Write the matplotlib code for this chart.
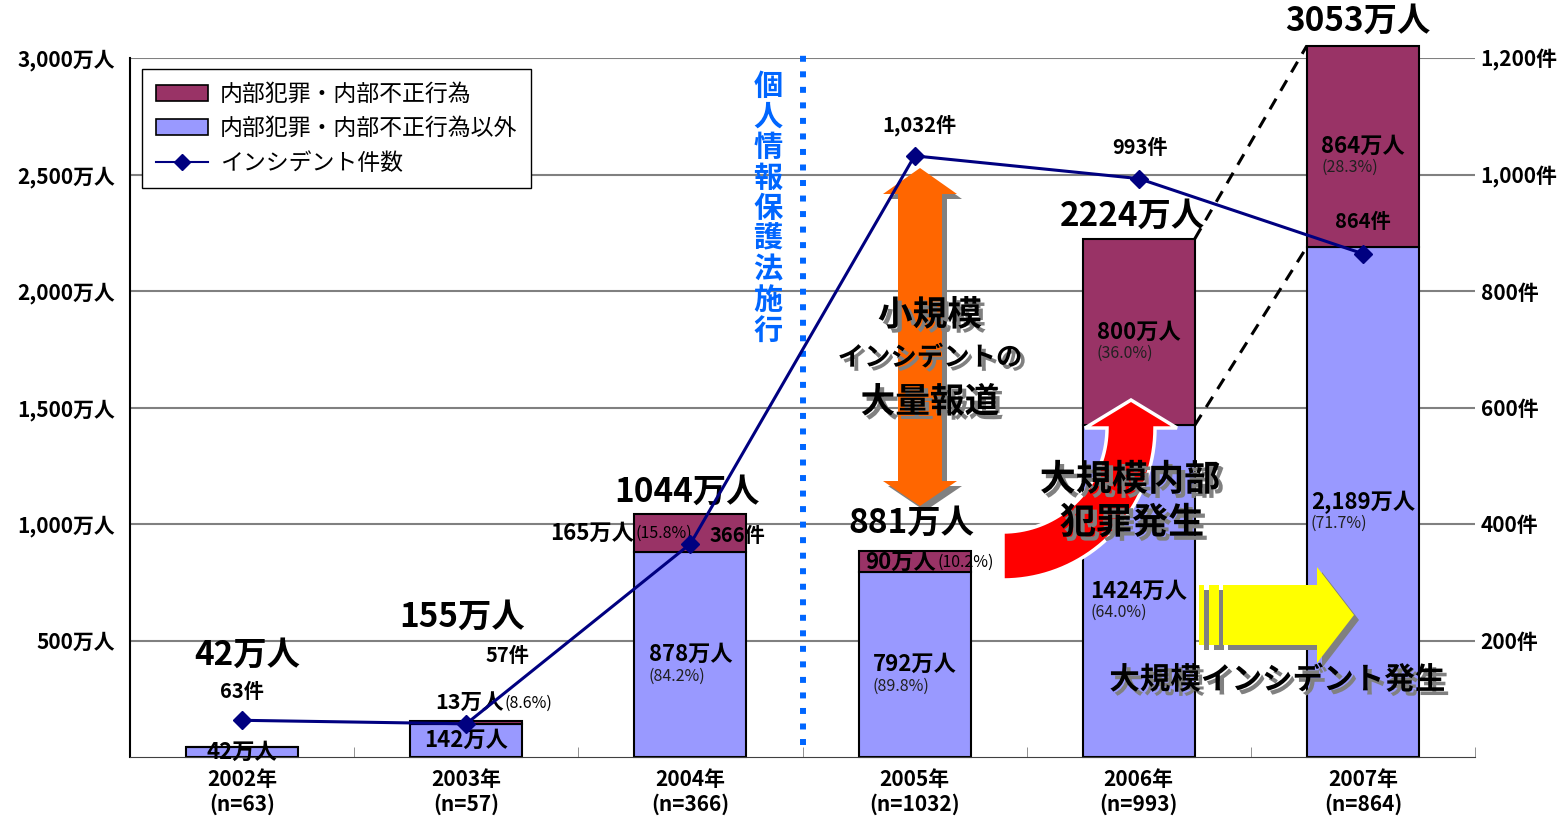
import numpy as np
import matplotlib
matplotlib.use('Agg')
import matplotlib.pyplot as plt
from matplotlib.patches import Patch, Polygon
from matplotlib.lines import Line2D
import matplotlib.patheffects as pe

plt.rcParams['font.family'] = ['Noto Sans CJK JP', 'DejaVu Sans']

years = [2002, 2003, 2004, 2005, 2006, 2007]
incidents = [63, 57, 366, 1032, 993, 864]
inside = [0, 13, 165, 90, 800, 864]          # 内部犯罪・内部不正行為
outside = [42, 142, 878, 792, 1424, 2189]    # 内部犯罪・内部不正行為以外
totals = [42, 155, 1044, 881, 2224, 3053]
inside_pct = [None, 8.6, 15.8, 10.2, 36.0, 28.3]
outside_pct = [None, None, 84.2, 89.8, 64.0, 71.7]
outside_labels = ['42万人', '142万人', '878万人', '792万人', '1424万人', '2,189万人']

PURPLE = '#993366'
BLUE = '#9999FF'
NAVY = '#000080'

W, H = 1564, 819
fig = plt.figure(figsize=(W / 100, H / 100), dpi=100)
ax = fig.add_axes([130 / W, 1 - 757 / H, (1475 - 130) / W, (757 - 58) / H])
ax2 = ax.twinx()


def P(x, y):
    # pixel position in the reference picture -> figure fraction
    return (x / W, 1 - y / H)


shadow = [pe.withSimplePatchShadow(offset=(3, -3), shadow_rgbFace='#808080', alpha=1)]

x = np.arange(len(years))
ax.bar(x, outside, 0.5, color=BLUE, edgecolor='black', lw=1.5, zorder=2, clip_on=False)
ax.bar(x, inside, 0.5, bottom=outside, color=PURPLE, edgecolor='black', lw=1.5,
       zorder=2, clip_on=False)

# axes setup
ax.set_xlim(-0.5, 5.5)
ax.set_ylim(0, 3000)
ax2.set_ylim(0, 1200)
yt = list(range(500, 3001, 500))
ax.set_yticks(yt)
ax.set_yticklabels([f'{v:,}万人' for v in yt], fontsize=15, fontweight='bold')
yt2 = list(range(200, 1201, 200))
ax2.set_yticks(yt2)
ax2.set_yticklabels([f'{v:,}件' for v in yt2], fontsize=15, fontweight='bold')
ax.set_xticks(x)
ax.set_xticklabels([f'{y}年\n(n={n})' for y, n in zip(years, incidents)],
                   fontsize=15, fontweight='bold', linespacing=1.15)
ax.set_xticks(np.arange(0.5, 5.6, 1), minor=True)
ax.tick_params(axis='x', which='major', length=0, pad=9)
ax.tick_params(axis='x', which='minor', direction='in', length=7, color='#808080')
ax.tick_params(axis='y', length=0, pad=11)
ax2.tick_params(axis='y', length=0, pad=4)
ax.grid(axis='y', color='#808080', lw=1.5)
ax.set_axisbelow(True)
for a in (ax, ax2):
    a.spines['top'].set_visible(False)
    a.spines['right'].set_visible(False)
ax2.spines['left'].set_visible(False)
ax2.spines['bottom'].set_visible(False)
ax.spines['left'].set_linewidth(1.5)
ax.spines['bottom'].set_color('#404040')

# incident line
ax2.plot(x, incidents, color=NAVY, lw=2.2, marker='D', ms=9, zorder=5)
inc_off = [(0, 29), (41, 68), (47, 8), (5, 31), (1, 31), (0, 32)]
for i, n in enumerate(incidents):
    dx, dy = inc_off[i]
    ax2.annotate(f'{n:,}件', (x[i], n), xytext=(dx * 0.72, dy * 0.72),
                 textcoords='offset points', ha='center', va='center',
                 fontsize=14.5, fontweight='bold', zorder=6)

# totals
tot_off = [(5, 92), (-4, 104), (-3, 21), (-3, 28), (-6, 23), (-5, 24)]
for i, t in enumerate(totals):
    dx, dy = tot_off[i]
    ax.annotate(f'{t}万人', (x[i], t), xytext=(dx * 0.72, dy * 0.72),
                textcoords='offset points', ha='center', va='center',
                fontsize=24, fontweight='bold', zorder=8, annotation_clip=False)

# segment labels (blue)
for i, v in enumerate(outside):
    lab = ax.annotate(outside_labels[i], (x[i], v / 2), xytext=(0, 0),
                      textcoords='offset points', ha='center', va='center',
                      fontsize=16, fontweight='bold', zorder=6)
    if outside_pct[i] is not None:
        ax.annotate(f'({outside_pct[i]:.1f}%)', (0, 0), xycoords=lab,
                    xytext=(0, -1), textcoords='offset points',
                    ha='left', va='top', fontsize=11.5, color='#202020', zorder=6)

# segment labels (purple)
for i, v in enumerate(inside):
    if v == 0:
        continue
    mid = outside[i] + v / 2
    if i == 1:
        lab = ax.annotate(f'{v}万人', (x[i], totals[i]), xytext=(2, 13),
                          textcoords='offset points', ha='center', va='center',
                          fontsize=15.5, fontweight='bold', zorder=6)
    elif i == 2:
        lab = ax.annotate(f'{v}万人', (x[i] - 0.25, mid), xytext=(0, 0),
                          textcoords='offset points', ha='right', va='center',
                          fontsize=16, fontweight='bold', zorder=6)
    elif i == 3:
        lab = ax.annotate(f'{v}万人', (x[i] - 0.25, mid), xytext=(5, 0),
                          textcoords='offset points', ha='left', va='center',
                          fontsize=16, fontweight='bold', zorder=6)
    else:
        lab = ax.annotate(f'{v}万人', (x[i], mid), xytext=(0, 0),
                          textcoords='offset points', ha='center', va='center',
                          fontsize=16, fontweight='bold', zorder=6)
    if i in (1, 2, 3):
        ax.annotate(f'({inside_pct[i]:.1f}%)', (1, 0.5), xycoords=lab,
                    xytext=(1, 0), textcoords='offset points',
                    ha='left', va='center', fontsize=11.5, zorder=6)
    else:
        ax.annotate(f'({inside_pct[i]:.1f}%)', (0, 0), xycoords=lab,
                    xytext=(0, -1), textcoords='offset points',
                    ha='left', va='top', fontsize=11.5, color='#202020', zorder=6)

# dashed guide lines 2006 -> 2007
ax.plot([4.25, 4.75], [totals[4], totals[5]], color='black', lw=2.2,
        dashes=(4, 3), zorder=4, clip_on=False)
ax.plot([4.25, 4.75], [outside[4], outside[5]], color='black', lw=2.2,
        dashes=(4, 3), zorder=4, clip_on=False)

# law enforcement line
ax.axvline(2.5, ymin=0.017, ymax=1.01, color='#0066FF', lw=4.3,
           linestyle=(0, (1, 1.6)), dash_capstyle='butt', zorder=3, clip_on=False)
for k, ch in enumerate('個人情報保護法施行'):
    fig.text(*P(768, 86 + k * 30.6), ch, ha='center', va='center', fontsize=21,
             fontweight='bold', color='#0066FF')


def shape(pts, color, dx=5, dy=5, z=3):
    sh = Polygon([P(a + dx, b + dy) for a, b in pts], closed=True,
                 transform=fig.transFigure, color='#808080', lw=0,
                 zorder=z, clip_on=False)
    ax.add_patch(sh)
    fg = Polygon([P(a, b) for a, b in pts], closed=True, transform=fig.transFigure,
                 facecolor=color, lw=0, zorder=z + 0.1, clip_on=False)
    ax.add_patch(fg)


# orange double arrow
orange = [(920, 168), (957, 194), (942, 194), (942, 481), (957, 481), (920, 506),
          (883, 481), (898, 481), (898, 194), (883, 194)]
shape(orange, '#FF6600')

# red curved arrow
cx, cy = 1003, 428
th = np.linspace(np.pi / 2, 0, 40)
outer = [(cx + 152 * np.cos(t), cy + 152 * np.sin(t)) for t in th]
inner = [(cx + 104 * np.cos(t), cy + 104 * np.sin(t)) for t in th[::-1]]
red = outer + [(1177, 428), (1131, 400), (1085, 428)] + inner
ax.add_patch(Polygon([P(a, b) for a, b in red], closed=True, transform=fig.transFigure,
                     facecolor='#FF0000', edgecolor='white', lw=2.5, zorder=4,
                     clip_on=False))

# yellow arrow
yellow = [(1223, 585), (1317, 585), (1317, 567), (1354, 615), (1317, 663),
          (1317, 645), (1223, 645)]
shape(yellow, '#FFFF00', z=4)
for sx, sw in [(1199, 5), (1209, 10)]:
    stripe = [(sx, 585), (sx + sw, 585), (sx + sw, 645), (sx, 645)]
    shape(stripe, '#FFFF00', z=4)

# callout texts
big = dict(ha='center', va='center', fontweight='bold', color='black',
           path_effects=shadow, zorder=9)
fig.text(*P(930, 315), '小規模', fontsize=25, **big)
fig.text(*P(930, 358), 'インシデントの', fontsize=19, **big)
fig.text(*P(930, 402), '大量報道', fontsize=25, **big)
fig.text(*P(1130, 480), '大規模内部', fontsize=26, **big)
fig.text(*P(1132, 523), '犯罪発生', fontsize=26, **big)
fig.text(*P(1277, 680), '大規模インシデント発生', fontsize=22, **big)

# legend
handles = [Patch(facecolor=PURPLE, edgecolor='black', lw=1.2),
           Patch(facecolor=BLUE, edgecolor='black', lw=1.2),
           Line2D([], [], color=NAVY, marker='D', ms=8, lw=1.5)]
labels = ['内部犯罪・内部不正行為', '内部犯罪・内部不正行為以外', 'インシデント件数']
leg = ax2.legend(handles, labels, loc='upper left', bbox_to_anchor=P(142, 69),
                 bbox_transform=fig.transFigure, fontsize=16.5, fancybox=False,
                 edgecolor='black', framealpha=1, borderaxespad=0, handlelength=2.3,
                 labelspacing=0.5, borderpad=0.6, handletextpad=0.5)
leg.get_frame().set_linewidth(1)

fig.savefig('out.png', dpi=100)
